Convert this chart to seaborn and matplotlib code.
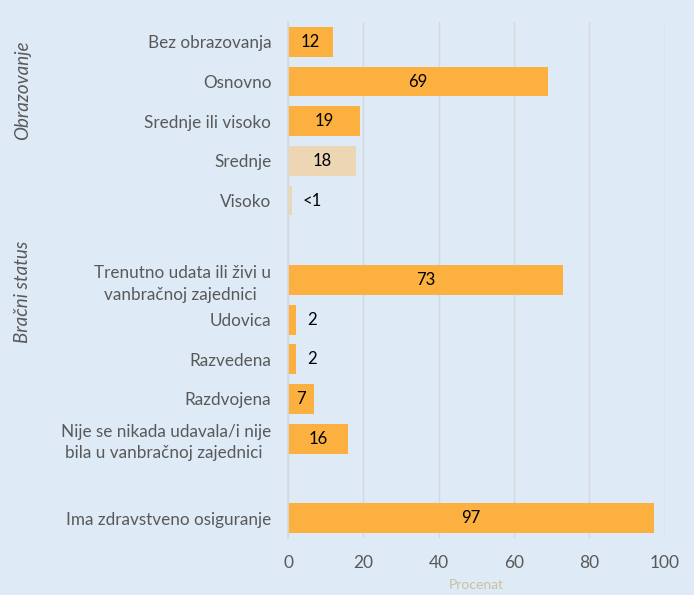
import numpy as np
import pandas as pd
import seaborn as sns
import matplotlib.pyplot as plt

# row order top to bottom; blank entries are the gaps between groups
categories = ['Bez obrazovanja', 'Osnovno', 'Srednje ili visoko', 'Srednje', 'Visoko', ' ',
              'Trenutno udata ili živi u\nvanbračnoj zajednici ', 'Udovica', 'Razvedena',
              'Razdvojena', 'Nije se nikada udavala/i nije\nbila u vanbračnoj zajednici ', '  ',
              'Ima zdravstveno osiguranje']
values = [12, 69, 19, 18, 1, 73, 2, 2, 7, 16, 97]
value_labels = ['12', '69', '19', '18', '<1', '73', '2', '2', '7', '16', '97']
bar_cats = [c for c in categories if c.strip()]
light_cats = ['Srednje', 'Visoko']

orange = '#FBB040'
beige = '#EDD6B3'
bg = '#DEEAF6'
grey = '#595959'

sns.set_theme(style='white')
plt.rcParams['font.family'] = ['Lato', 'DejaVu Sans']

df = pd.DataFrame({'cat': bar_cats, 'val': values})
palette = {c: (beige if c in light_cats else orange) for c in bar_cats}

fig = plt.figure(figsize=(6.94, 5.95), dpi=100, facecolor=bg)
ax = fig.add_axes([0.415, 0.096, 0.543, 0.867])
ax.set_facecolor(bg)

sns.barplot(data=df, x='val', y='cat', hue='cat', order=categories, palette=palette,
            legend=False, width=0.75, saturation=1, linewidth=0, ax=ax)

for cat, val, lab in zip(bar_cats, values, value_labels):
    y = categories.index(cat)
    if val >= 5:
        ax.text(val / 2, y, lab, ha='center', va='center', fontsize=12, color='black')
    else:
        ax.text(val + 3, y, lab, ha='left', va='center', fontsize=12, color='black')

ax.set_xlim(0, 100)
ax.set_ylim(len(categories) - 0.5, -0.5)
ax.set_xticks([0, 20, 40, 60, 80, 100])
ax.xaxis.grid(True, color='#D5D9DE', linewidth=1)
ax.set_axisbelow(True)
for s in ['top', 'right', 'bottom']:
    ax.spines[s].set_visible(False)
ax.spines['left'].set_color('#D5D9DE')
ax.tick_params(axis='both', length=0, colors=grey, labelsize=12.3)
ax.tick_params(axis='y', pad=12)
ax.tick_params(axis='x', pad=12, labelsize=12.5)
for t in ax.get_yticklabels():
    t.set_multialignment('center')
    t.set_linespacing(1.4)
ax.set_ylabel('')
ax.set_xlabel('Procenat', color='#C9C29C', fontsize=10, labelpad=6)

fig.text(0.032, 1 - 90 / 595, 'Obrazovanje', rotation=90, style='italic', color=grey,
         fontsize=13.5, ha='center', va='center')
fig.text(0.032, 1 - 292 / 595, 'Bračni status', rotation=90, style='italic', color=grey,
         fontsize=13.5, ha='center', va='center')

fig.savefig('out.png', dpi=100, facecolor=bg)
